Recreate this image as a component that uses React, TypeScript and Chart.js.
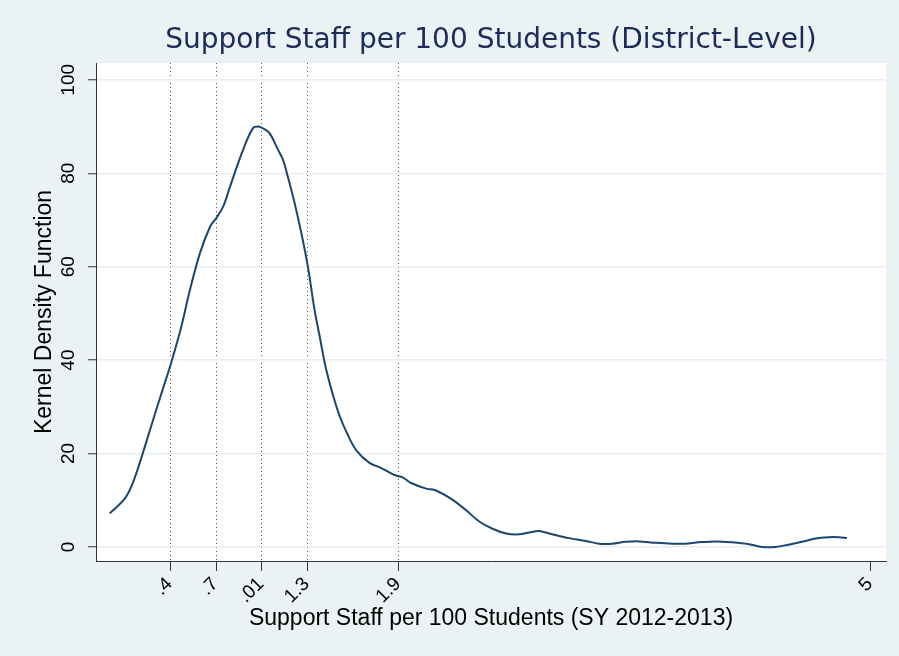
import { useEffect, useRef } from "react";
import { Chart, registerables } from "chart.js";

Chart.register(...registerables);

// Kernel density estimate of support staff per 100 students (district level)
const densityX = [
  0.0, 0.1, 0.154, 0.21, 0.286, 0.35, 0.4, 0.47, 0.527, 0.593, 0.66, 0.7, 0.746, 0.79,
  0.876, 0.94, 0.975, 1.007, 1.05, 1.106, 1.138, 1.17, 1.215, 1.259, 1.302, 1.346, 1.38,
  1.423, 1.5, 1.56, 1.62, 1.707, 1.784, 1.871, 1.925, 1.98, 2.079, 2.144, 2.253, 2.34,
  2.43, 2.515, 2.603, 2.69, 2.756, 2.82, 2.887, 3.018, 3.128, 3.215, 3.3, 3.39, 3.477,
  3.587, 3.696, 3.78, 3.87, 3.98, 4.09, 4.2, 4.286, 4.374, 4.46, 4.548, 4.636, 4.723,
  4.789, 4.843,
];
const densityY = [
  7.2, 10.4, 13.9, 19.3, 27.3, 33.9, 39.0, 47.1, 55.0, 62.9, 68.6, 70.4, 72.9, 77.1,
  85.0, 89.6, 90.0, 89.6, 88.6, 85.0, 82.9, 79.3, 73.6, 67.2, 60.0, 50.7, 45.0,
  37.9, 29.0, 24.3, 20.7, 18.0, 16.9, 15.4, 14.9, 13.7, 12.5, 12.1, 10.1, 7.9,
  5.4, 3.9, 2.9, 2.7, 3.1, 3.4, 2.9, 1.9, 1.3, 0.7, 0.7, 1.1, 1.2,
  0.9, 0.7, 0.7, 1.0, 1.2, 1.0, 0.6, 0.0, 0.0, 0.5, 1.1, 1.8, 2.1,
  2.1, 1.9,
];

// Axis ticks and reference lines
const xTickValues = [0.4, 0.7, 1.0, 1.3, 1.9, 5];
const xTickLabels = [".4", ".7", ".01", "1.3", "1.9", "5"];
const refLineValues = [0.4, 0.7, 1.0, 1.3, 1.9];
const yTickValues = [0, 20, 40, 60, 80, 100];

const chartTitle = "Support Staff per 100 Students (District-Level)";
const xAxisTitle = "Support Staff per 100 Students (SY 2012-2013)";
const yAxisTitle = "Kernel Density Function";

const SANS = "'Liberation Sans', Arial, Helvetica, sans-serif";

// Paints the plot region white over the tinted graph background
const plotAreaFill = {
  id: "plotAreaFill",
  beforeDraw(chart: any) {
    const { ctx, chartArea } = chart;
    ctx.save();
    ctx.fillStyle = "#ffffff";
    ctx.fillRect(chartArea.left, chartArea.top, chartArea.width, chartArea.height);
    ctx.restore();
  },
};

export default function App() {
  const canvasRef = useRef<HTMLCanvasElement | null>(null);

  useEffect(() => {
    if (!canvasRef.current) return;
    const chart = new Chart(canvasRef.current, {
      type: "line",
      data: {
        datasets: [
          {
            data: densityX.map((x, i) => ({ x, y: densityY[i] })),
            borderColor: "#1A476F",
            borderWidth: 2,
            pointRadius: 0,
            tension: 0.35,
            fill: false,
          },
        ],
      },
      plugins: [plotAreaFill],
      options: {
        responsive: false,
        animation: false,
        layout: { padding: { left: 0, right: 13, top: 0, bottom: 0 } },
        plugins: {
          legend: { display: false },
          tooltip: { enabled: false },
          title: {
            display: true,
            text: chartTitle,
            fullSize: false,
            color: "#1C2B5A",
            font: { family: "'DejaVu Sans', sans-serif", size: 28, weight: "normal" },
            padding: { top: 24, bottom: 5.4 },
          },
        },
        scales: {
          x: {
            type: "linear",
            min: -0.09,
            max: 5.1,
            afterBuildTicks: (scale: any) => {
              scale.ticks = xTickValues.map((v) => ({ value: v }));
            },
            afterFit: (scale: any) => {
              scale.height = 95;
              scale.paddingLeft = 0;
              scale.paddingRight = 0;
            },
            grid: {
              color: (ctx: any) =>
                ctx.tick && refLineValues.includes(ctx.tick.value) ? "#555555" : "rgba(0,0,0,0)",
              lineWidth: 1,
              tickLength: 10,
              tickWidth: 1,
              tickColor: "#333333",
              tickBorderDash: [],
            },
            border: { display: true, color: "#333333", width: 1, dash: [1, 3] },
            ticks: {
              autoSkip: false,
              minRotation: 45,
              maxRotation: 45,
              padding: 2,
              labelOffset: -1,
              color: "#000000",
              font: { family: SANS, size: 19 },
              callback: (value: any) => xTickLabels[xTickValues.indexOf(Number(value))],
            },
            title: {
              display: true,
              text: xAxisTitle,
              color: "#000000",
              font: { family: SANS, size: 23 },
              padding: { top: 0, bottom: 23.5 },
            },
          },
          y: {
            type: "linear",
            min: -3.0,
            max: 103.6,
            afterBuildTicks: (scale: any) => {
              scale.ticks = yTickValues.map((v) => ({ value: v }));
            },
            afterFit: (scale: any) => {
              scale.width = 96;
              scale.paddingTop = 0;
              scale.paddingBottom = 0;
            },
            grid: {
              color: "#E6EEF1",
              lineWidth: 1.5,
              tickLength: 8,
              tickWidth: 1,
              tickColor: "#333333",
            },
            border: { display: true, color: "#333333", width: 1 },
            ticks: {
              autoSkip: false,
              minRotation: 90,
              maxRotation: 90,
              crossAlign: "center",
              padding: 3,
              color: "#000000",
              font: { family: SANS, size: 19 },
              callback: (value: any) => String(value),
            },
            title: {
              display: true,
              text: yAxisTitle,
              color: "#000000",
              font: { family: SANS, size: 23 },
              padding: { top: 31.2, bottom: 0 },
            },
          },
        },
      } as any,
    });
    return () => chart.destroy();
  }, []);

  return (
    <div
      style={{
        position: "fixed",
        left: 0,
        top: 0,
        width: 899,
        height: 656,
        background: "#EAF2F3",
      }}
    >
      <canvas
        ref={canvasRef}
        width={899}
        height={656}
        style={{ display: "block", width: 899, height: 656 }}
      />
    </div>
  );
}
